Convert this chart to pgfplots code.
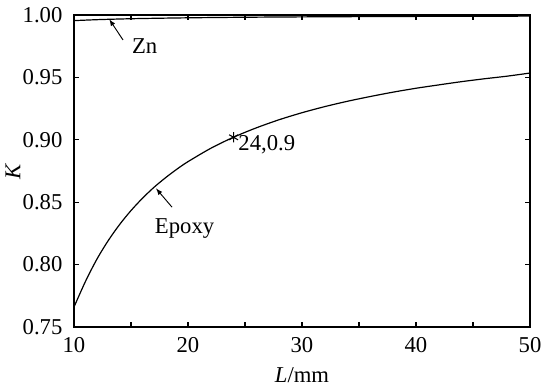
\documentclass[border=0pt]{standalone}
\usepackage{pgfplots}
\pgfplotsset{compat=1.18}
\usepackage{fontspec}
\setmainfont{Liberation Serif}
\begin{document}
\fontsize{17}{20}\selectfont
\begin{tikzpicture}
\begin{axis}[name=ax,
  scale only axis, width=342pt, height=234pt,
  xmin=10, xmax=50, ymin=0.75, ymax=1.00,
  xtick={10,20,30,40,50},
  minor xtick={15,25,35,45},
  ytick={0.75,0.80,0.85,0.90,0.95,1.00},
  yticklabel style={inner sep=0pt, xshift=-8.5pt, /pgf/number format/.cd, fixed, fixed zerofill, precision=2},
  xticklabel style={inner sep=0pt, yshift=-7.5pt},
  /pgf/number format/assume math mode=true,
  tick align=inside,
  major tick length=4pt, minor tick length=4pt,
  tick style={black, line width=0.8pt},
  axis line style={line width=0.9pt},
  xlabel={\textit{L}/mm}, ylabel={\textit{K}},
  every axis x label/.style={at={(axis description cs:0.5,-0.154)}, anchor=center, inner sep=0pt},
  every axis y label/.style={at={(axis description cs:-0.134,0.5)}, rotate=90, anchor=center, inner sep=0pt},
  tick label style={font=\fontsize{17}{20}\selectfont},
  label style={font=\fontsize{17}{20}\selectfont},
  clip=true,
]
\addplot[black, line width=0.9pt, smooth] coordinates {
(10,0.7660)(11,0.7864)(12,0.8042)(13,0.8192)(14,0.8321)(15,0.8433)(16,0.8531)(17,0.8618)(18,0.8694)(19,0.8763)(20,0.8825)(22,0.8932)(24,0.9021)(26,0.9096)(28,0.9161)(30,0.9217)(32,0.9266)(34,0.9309)(36,0.9347)(38,0.9382)(40,0.9413)(42,0.9440)(44,0.9466)(46,0.9489)(48,0.9510)(50,0.9535)
};
\addplot[black, line width=0.9pt, smooth] coordinates {
(10,0.9955)(12,0.99625)(14,0.99679)(16,0.99719)(20,0.99775)(25,0.9982)(30,0.9985)(40,0.99888)(50,0.9991)
};
\addplot[black, only marks, mark=asterisk, mark size=3.8pt, line width=0.8pt] coordinates {(24,0.902)};
\draw[-latex, line width=0.7pt] (axis cs:14.3,0.980) -- (axis cs:13.1,0.9965);
\node at (axis cs:16.2,0.975) {Zn};
\draw[-latex, line width=0.7pt] (axis cs:18.6,0.846) -- (axis cs:17.2,0.861);
\node at (axis cs:19.7,0.829) {Epoxy};
\node[anchor=west, inner sep=0pt] at (axis cs:24.4,0.896) {24,0.9};
\end{axis}
\useasboundingbox ([xshift=-55.5pt,yshift=-46.5pt]ax.south west) rectangle ([xshift=9.75pt,yshift=11.25pt]ax.north east);
\end{tikzpicture}
\end{document}
